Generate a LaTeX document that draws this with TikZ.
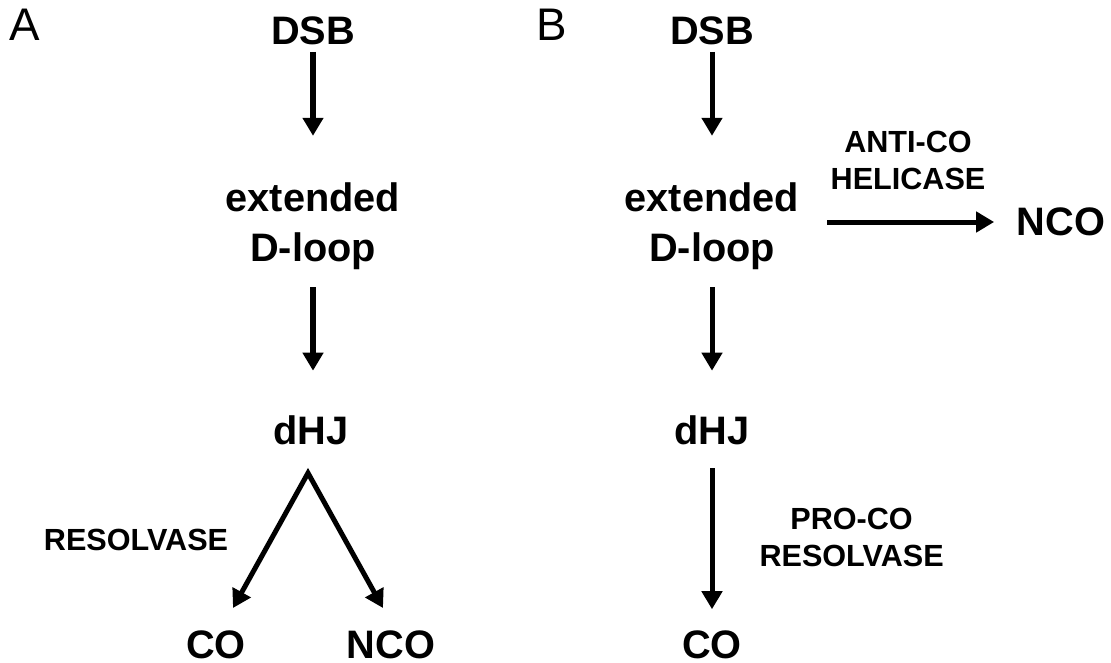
\documentclass[tikz,border=0pt]{standalone}
\usepackage{fontspec}
\setmainfont{Liberation Sans}
\usetikzlibrary{arrows.meta,positioning}

\begin{document}
\begin{tikzpicture}[
    x=0.01cm, y=-0.01cm,
    state/.style={inner sep=0pt, align=center,
                  font=\bfseries\fontsize{11.3}{14.2}\selectfont},
    enzyme/.style={inner sep=0pt, align=center,
                   font=\bfseries\fontsize{8.7}{10.5}\selectfont},
    panel/.style={inner sep=0pt, font=\fontsize{13}{15}\selectfont},
    arrow/.style={-{Triangle[length=0.18cm, width=0.2cm]}, line width=0.05cm},
    fork/.style={{Triangle[length=0.18cm, width=0.2cm]}-{Triangle[length=0.18cm, width=0.2cm]},
                 line width=0.05cm, miter limit=20}
]
    \useasboundingbox (0,0) rectangle (1111,663);

    % panel A
    \node[panel] (labelA) at (25,25) {A};
    \node[state] (dsbA) at (313,31) {DSB};
    \node[state] (extA) at (313,226) {extended\\D-loop};
    \node[state] (dhjA) at (311,430) {dHJ};
    \node[state] (coA) at (216,645) {CO};
    \node[state] (ncoA) at (391,645) {NCO};
    \node[enzyme] (resA) at (136,540) {RESOLVASE};
    \coordinate (forkA) at (308,473);
    \coordinate (toCO) at (233,608);
    \coordinate (toNCO) at (383,608);

    \draw[arrow, shorten <=0.06cm, shorten >=0.46cm] (dsbA) -- (extA);
    \draw[arrow, shorten <=0.17cm, shorten >=0.44cm] (extA.south) -- (extA.south |- dhjA.north);
    \draw[fork] (toCO) -- (forkA) -- (toNCO);

    % panel B
    \node[panel] (labelB) at (552,25) {B};
    \node[state] (dsbB) at (712,31) {DSB};
    \node[state] (extB) at (712,226) {extended\\D-loop};
    \node[state] (ncoB) at (1061,222) {NCO};
    \node[state] (dhjB) at (712,430) {dHJ};
    \node[state] (coB) at (712,645) {CO};

    \draw[arrow, shorten <=0.06cm, shorten >=0.46cm] (dsbB) -- (extB);
    \draw[arrow, shorten <=0.275cm, shorten >=0.22cm] (extB.east |- ncoB.west) --
        node[enzyme, above=0.3cm] (heli) {ANTI-CO\\HELICASE} (ncoB.west);
    \draw[arrow, shorten <=0.17cm, shorten >=0.44cm] (extB) -- (dhjB);
    \draw[arrow, shorten <=0.23cm, shorten >=0.21cm] (dhjB) --
        node[enzyme, right=0.45cm] (proco) {PRO-CO\\RESOLVASE} (coB);
\end{tikzpicture}
\end{document}
